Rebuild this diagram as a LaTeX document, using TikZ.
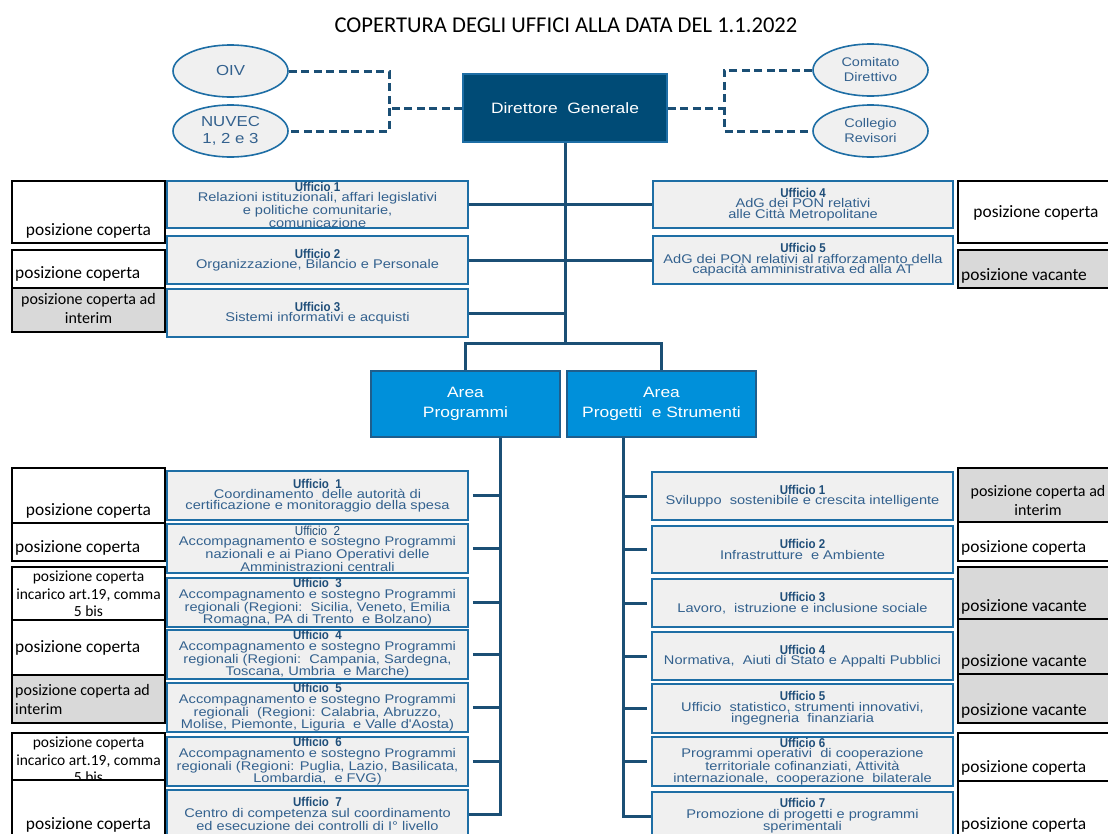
\documentclass[tikz,border=0pt]{standalone}
\usepackage{fontspec}
\usetikzlibrary{shapes.geometric}
\setmainfont{Liberation Sans}
\newfontfamily\offfont[FakeStretch=1.16]{Liberation Sans}
\newfontfamily\headfont[FakeStretch=0.9]{Liberation Sans}
\newfontfamily\statfont{Carlito}
\definecolor{dgblue}{HTML}{004B76}
\definecolor{dgborder}{HTML}{1E6EA5}
\definecolor{areablue}{HTML}{0090DA}
\definecolor{areaborder}{HTML}{1F5E8C}
\definecolor{offborder}{HTML}{1E6EA5}
\definecolor{offfill}{HTML}{F0F0F0}
\definecolor{offtext}{HTML}{33618E}
\definecolor{headtext}{HTML}{1F4E79}
\definecolor{connblue}{HTML}{1B4F75}
\definecolor{statgray}{HTML}{D9D9D9}
\newcommand{\uffhead}[1]{{\headfont\bfseries\fontsize{12.8}{10.5}\selectfont\color{headtext}#1}}
\newcommand{\uffplain}[1]{{\headfont\fontsize{13}{10.5}\selectfont\color{headtext}#1}}
\begin{document}
\begin{tikzpicture}[x=1pt,y=-1pt,
  office/.style={draw=offborder, line width=1.6pt, fill=offfill, minimum width=301pt,
    minimum height=48pt, align=center, text=offtext, inner sep=0pt,
    font=\offfont\fontsize{12.6}{10.5}\selectfont},
  ell/.style={ellipse, draw=offborder, line width=1.6pt, fill=offfill, minimum width=115pt,
    minimum height=52pt, inner sep=0pt, align=center, text=offtext,
    font=\offfont\fontsize{14.5}{17}\selectfont},
  ellsmall/.style={ell, font=\offfont\fontsize{12.5}{15}\selectfont},
  dgbox/.style={draw=dgborder, line width=1.6pt, fill=dgblue, minimum width=204pt,
    minimum height=68pt, text=white, inner sep=0pt,
    font=\offfont\fontsize{15}{18}\selectfont},
  areabox/.style={draw=areaborder, line width=1.6pt, fill=areablue, minimum width=189pt,
    minimum height=66pt, text=white, inner sep=0pt, align=center,
    font=\offfont\fontsize{15}{20}\selectfont},
  statw/.style={draw=black, line width=1.6pt, fill=white, minimum width=153pt, inner sep=0pt},
  statg/.style={statw, fill=statgray},
  stattxt/.style={font=\statfont\fontsize{17.4}{19}\selectfont, inner sep=0pt, text=black},
  statsm/.style={font=\statfont\fontsize{15.5}{17.5}\selectfont, inner sep=0pt, text=black, align=center},
  statmd/.style={font=\statfont\fontsize{16}{19}\selectfont, inner sep=0pt, text=black},
  conn/.style={draw=connblue, line width=3pt},
  dashconn/.style={draw=connblue, line width=3pt, dash pattern=on 8pt off 4.5pt}
]
\useasboundingbox (0,0) rectangle (1108,833);
\clip (0,0) rectangle (1108,833);

% title
\node[font=\statfont\fontsize{22.6}{24}\selectfont, inner sep=0pt] (title) at (566,25)
  {COPERTURA DEGLI UFFICI ALLA DATA DEL 1.1.2022};

% top level
\node[ell] (OIV) at (230.5,71) {OIV};
\node[ell] (NUVEC) at (230.5,131) {NUVEC\\1, 2 e 3};
\node[ellsmall] (CD) at (870.5,70) {Comitato\\Direttivo};
\node[ellsmall] (CR) at (870.5,131) {Collegio\\Revisori};
\node[dgbox] (DG) at (565,108) {Direttore\ \ Generale};

\coordinate (jL) at (389,108);
\coordinate (jR) at (724,108);
\coordinate (split) at (565,343);
\coordinate (tL) at (500,0);
\coordinate (tR) at (623,0);

\draw[dashconn] (OIV.east) -| (jL) |- (NUVEC.east);
\draw[dashconn] (DG.west) -- (jL);
\draw[dashconn] (CD.west) -| (jR) |- (CR.west);
\draw[dashconn] (DG.east) -- (jR);

% upper offices
\node[office, minimum height=47pt] (UL1) at (317.5,204.5)
  {\uffhead{Ufficio 1}\\Relazioni istituzionali, affari legislativi\\e politiche comunitarie,\\comunicazione};
\node[office] (UL2) at (317.5,260)
  {\uffhead{Ufficio 2}\\Organizzazione, Bilancio e Personale};
\node[office] (UL3) at (317.5,313)
  {\uffhead{Ufficio 3}\\Sistemi informativi e acquisti};
\node[office, minimum width=300pt, minimum height=47pt] (UR4) at (803,204.5)
  {\uffhead{Ufficio 4}\\AdG dei PON relativi\\alle Città Metropolitane};
\node[office, minimum width=300pt] (UR5) at (803,260)
  {\uffhead{Ufficio 5}\\AdG dei PON relativi al rafforzamento della\\capacità amministrativa ed alla AT};

% areas
\node[areabox] (AP) at (465.5,404) {Area\\Programmi};
\node[areabox] (APS) at (661.5,404) {Area\\Progetti\ \ e Strumenti};

\draw[conn] (DG.south) -- (split);
\draw[conn] (AP.north) |- (split) -| (APS.north);
\foreach \n in {UL1,UL2,UL3} \draw[conn] (\n.east) -- (\n.east -| split);
\foreach \n in {UR4,UR5} \draw[conn] (\n.west -| split) -- (\n.west);

% upper status boxes
\node[statw, minimum height=62pt] (SL1) at (88.5,212) {};
\node[stattxt, anchor=base] (SL1t) at (88.5,235) {posizione coperta};
\node[statw, minimum height=38pt] (SL2) at (88.5,269) {};
\node[stattxt, anchor=base west] (SL2t) at (15,278) {posizione coperta};
\node[statg, minimum height=44pt] (SL3) at (88.5,310) {};
\node[statmd, align=center] (SL3t) at (88.5,308) {posizione coperta ad\\interim};

\node[statw, minimum width=152pt, minimum height=62pt] (SR1) at (1034,212) {};
\node[stattxt, anchor=base] (SR1t) at (1036,217) {posizione coperta};
\node[statg, minimum width=152pt, minimum height=38pt] (SR2) at (1034,269) {};
\node[stattxt, anchor=base west] (SR2t) at (961,280) {posizione vacante};

% lower left offices
\node[office, minimum height=49pt] (LL1) at (317.5,495.5)
  {\uffhead{Ufficio\ \ 1}\\Coordinamento\ \ delle autorità di\\certificazione e monitoraggio della spesa};
\node[office, minimum height=49pt] (LL2) at (317.5,548.5)
  {\uffplain{Ufficio\ \ 2}\\Accompagnamento e sostegno Programmi\\nazionali e ai Piano Operativi delle\\Amministrazioni centrali};
\node[office, minimum height=49pt] (LL3) at (317.5,602.5)
  {\uffhead{Ufficio\ \ 3}\\Accompagnamento e sostegno Programmi\\regionali (Regioni:\ \ Sicilia, Veneto, Emilia\\Romagna, PA di Trento\ \ e Bolzano)};
\node[office, minimum height=49pt] (LL4) at (317.5,654.5)
  {\uffhead{Ufficio\ \ 4}\\Accompagnamento e sostegno Programmi\\regionali (Regioni:\ \ Campania, Sardegna,\\Toscana, Umbria\ \ e Marche)};
\node[office, minimum height=49pt] (LL5) at (317.5,707.5)
  {\uffhead{Ufficio\ \ 5}\\Accompagnamento e sostegno Programmi\\regionali\ \ (Regioni: Calabria, Abruzzo,\\Molise, Piemonte, Liguria\ \ e Valle d'Aosta)};
\node[office, minimum height=49pt] (LL6) at (317.5,761.5)
  {\uffhead{Ufficio\ \ 6}\\Accompagnamento e sostegno Programmi\\regionali (Regioni: Puglia, Lazio, Basilicata,\\Lombardia,\ \ e FVG)};
\node[office, minimum height=48pt] (LL7) at (317.5,814)
  {\uffhead{Ufficio\ \ 7}\\Centro di competenza sul coordinamento\\ed esecuzione dei controlli di I° livello};

% lower right offices
\node[office] (RL1) at (802.5,496)
  {\uffhead{Ufficio 1}\\Sviluppo\ \ sostenibile e crescita intelligente};
\node[office, minimum height=47pt] (RL2) at (802.5,549.5)
  {\uffhead{Ufficio 2}\\Infrastrutture\ \ e Ambiente};
\node[office] (RL3) at (802.5,603)
  {\uffhead{Ufficio 3}\\Lavoro,\ \ istruzione e inclusione sociale};
\node[office] (RL4) at (802.5,656)
  {\uffhead{Ufficio 4}\\Normativa,\ \ Aiuti di Stato e Appalti Pubblici};
\node[office, minimum height=49pt] (RL5) at (802.5,708.5)
  {\uffhead{Ufficio 5}\\Ufficio\ \ statistico, strumenti innovativi,\\ingegneria\ \ finanziaria};
\node[office, minimum height=49pt] (RL6) at (802.5,761.5)
  {\uffhead{Ufficio 6}\\Programmi operativi\ \ di cooperazione\\territoriale cofinanziati, Attività\\internazionale,\ \ cooperazione\ \ bilaterale};
\node[office] (RL7) at (802.5,816)
  {\uffhead{Ufficio 7}\\Promozione di progetti e programmi\\sperimentali};

% lower trunks
\draw[conn] (AP.south -| tL) |- (LL7.east);
\draw[conn] (APS.south -| tR) |- (RL7.west);
\foreach \n in {LL1,LL2,LL3,LL4,LL5,LL6} \draw[conn] ([xshift=4pt]\n.east) -- (\n.east -| tL);
\foreach \n in {RL1,RL2,RL3,RL4,RL5,RL6} \draw[conn] (\n.west -| tR) -- ([xshift=-4pt]\n.west);

% lower left status boxes
\node[statw, minimum height=55pt] (LS1) at (88.5,495.5) {};
\node[stattxt, anchor=base] (LS1t) at (88.5,515) {posizione coperta};
\node[statw, minimum height=38pt] (LS2) at (88.5,542) {};
\node[stattxt, anchor=base west] (LS2t) at (15,552) {posizione coperta};
\node[statw, minimum height=53pt] (LS3) at (88.5,593.5) {};
\node[statsm] (LS3t) at (88.5,594) {posizione coperta\\incarico art.19, comma\\5 bis};
\node[statw, minimum height=55pt] (LS4) at (88.5,647.5) {};
\node[stattxt, anchor=base west] (LS4t) at (15,652) {posizione coperta};
\node[statg, minimum height=48pt] (LS5) at (88.5,699) {};
\node[statmd, anchor=west, align=left] (LS5t) at (15,699) {posizione coperta ad\\interim};
\node[statw, minimum height=47pt] (LS6) at (88.5,756.5) {};
\node[statsm] (LS6t) at (88.5,760) {posizione coperta\\incarico art.19, comma\\5 bis};
\node[statw, minimum height=65pt] (LS7) at (88.5,812.5) {};
\node[stattxt, anchor=base] (LS7t) at (88.5,829) {posizione coperta};

% lower right status boxes
\node[statg, minimum width=152pt, minimum height=54pt] (RS1) at (1034,495) {};
\node[statmd, align=center] (RS1t) at (1038,500) {posizione coperta ad\\interim};
\node[statw, minimum width=152pt, minimum height=39pt] (RS2) at (1034,541.5) {};
\node[stattxt, anchor=base west] (RS2t) at (961,552) {posizione coperta};
\node[statg, minimum width=152pt, minimum height=52pt] (RS3) at (1034,593) {};
\node[stattxt, anchor=base west] (RS3t) at (961,611) {posizione vacante};
\node[statg, minimum width=152pt, minimum height=55pt] (RS4) at (1034,646.5) {};
\node[stattxt, anchor=base west] (RS4t) at (961,666) {posizione vacante};
\node[statg, minimum width=152pt, minimum height=49pt] (RS5) at (1034,698.5) {};
\node[stattxt, anchor=base west] (RS5t) at (961,715) {posizione vacante};
\node[statw, minimum width=152pt, minimum height=48pt] (RS6) at (1034,757) {};
\node[stattxt, anchor=base west] (RS6t) at (961,772) {posizione coperta};
\node[statw, minimum width=152pt, minimum height=65pt] (RS7) at (1034,813.5) {};
\node[stattxt, anchor=base west] (RS7t) at (961,829) {posizione coperta};
\end{tikzpicture}
\end{document}
